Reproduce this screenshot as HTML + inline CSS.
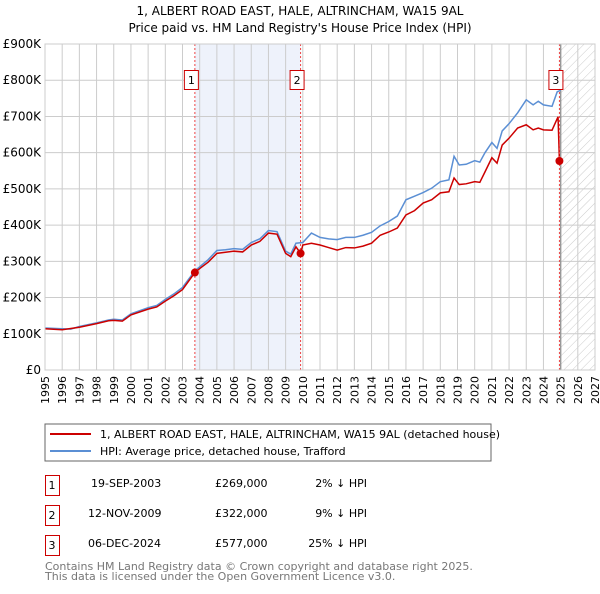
<!DOCTYPE html>
<html><head><meta charset="utf-8"><style>
body{margin:0;background:#fff;font-family:"DejaVu Sans","Liberation Sans",sans-serif;}
svg text{font-family:"DejaVu Sans","Liberation Sans",sans-serif;}
</style></head><body>
<svg id="c" width="600" height="590" xmlns="http://www.w3.org/2000/svg">
<defs><pattern id="hatch" width="6" height="6" patternUnits="userSpaceOnUse" patternTransform="rotate(45)"><line x1="0" y1="0" x2="0" y2="6" stroke="#ccc" stroke-width="1"/></pattern></defs>
<text x="300" y="15" text-anchor="middle" font-size="12">1, ALBERT ROAD EAST, HALE, ALTRINCHAM, WA15 9AL</text>
<text x="300" y="32" text-anchor="middle" font-size="12">Price paid vs. HM Land Registry's House Price Index (HPI)</text>
<g id="plot"></g>
<rect x="45" y="424" width="446" height="37" fill="#fff" stroke="#666"/>
<line x1="50" y1="434" x2="91" y2="434" stroke="#cc0000" stroke-width="2"/>
<text x="100" y="438" font-size="11">1, ALBERT ROAD EAST, HALE, ALTRINCHAM, WA15 9AL (detached house)</text>
<line x1="50" y1="451" x2="91" y2="451" stroke="#5b8fd4" stroke-width="2"/>
<text x="100" y="455" font-size="11">HPI: Average price, detached house, Trafford</text>
<g font-size="11">
<rect x="45.5" y="475.5" width="14" height="20" fill="none" stroke="#cc0000"/><text x="52" y="489" text-anchor="middle">1</text>
<text x="91" y="487">19-SEP-2003</text><text x="215" y="487">£269,000</text><text x="367" y="487" text-anchor="end">2% ↓ HPI</text>
<rect x="45.5" y="505.5" width="14" height="20" fill="none" stroke="#cc0000"/><text x="52" y="519" text-anchor="middle">2</text>
<text x="88" y="517">12-NOV-2009</text><text x="215" y="517">£322,000</text><text x="367" y="517" text-anchor="end">9% ↓ HPI</text>
<rect x="45.5" y="535.5" width="14" height="20" fill="none" stroke="#cc0000"/><text x="52" y="549" text-anchor="middle">3</text>
<text x="88" y="547">06-DEC-2024</text><text x="215" y="547">£577,000</text><text x="367" y="547" text-anchor="end">25% ↓ HPI</text>
</g>
<text x="45" y="570" font-size="11" fill="#777">Contains HM Land Registry data © Crown copyright and database right 2025.</text>
<text x="45" y="580" font-size="11" fill="#777">This data is licensed under the Open Government Licence v3.0.</text>
</svg>
<script>
const yTicks=[0,100,200,300,400,500,600,700,800,900];
const yTickLabels=["£0","£100K","£200K","£300K","£400K","£500K","£600K","£700K","£800K","£900K"];
const xYears=[1995,1996,1997,1998,1999,2000,2001,2002,2003,2004,2005,2006,2007,2008,2009,2010,2011,2012,2013,2014,2015,2016,2017,2018,2019,2020,2021,2022,2023,2024,2025,2026,2027];
const hpiDates=[1995,1996,1996.5,1997,1998,1998.7,1999,1999.5,2000,2001,2001.5,2002,2002.5,2003,2003.72,2004,2004.5,2005,2005.5,2006,2006.5,2007,2007.5,2008,2008.5,2009,2009.3,2009.6,2010,2010.5,2011,2011.5,2012,2012.5,2013,2013.5,2014,2014.5,2015,2015.5,2016,2016.5,2017,2017.5,2018,2018.5,2018.8,2019.1,2019.5,2020,2020.3,2020.6,2021,2021.3,2021.6,2022,2022.5,2023,2023.4,2023.7,2024,2024.5,2024.8,2025];
const hpiValues=[116,114,113,120,130,138,140,138,155,172,178,195,210,228,274,285,305,330,332,335,333,352,362,385,382,328,320,350,352,378,366,362,360,366,366,372,380,398,410,425,470,480,490,502,520,525,590,566,568,578,574,600,628,612,660,680,710,746,732,742,732,728,768,772];
const saleLineDates=[1995,1996,1997,1998,1998.7,1999,1999.5,2000,2001,2001.5,2002,2002.5,2003,2003.72,2004,2004.5,2005,2005.5,2006,2006.5,2007,2007.5,2008,2008.5,2009,2009.3,2009.6,2009.87,2010,2010.5,2011,2011.5,2012,2012.5,2013,2013.5,2014,2014.5,2015,2015.5,2016,2016.5,2017,2017.5,2018,2018.5,2018.8,2019.1,2019.5,2020,2020.3,2020.6,2021,2021.3,2021.6,2022,2022.5,2023,2023.4,2023.7,2024,2024.5,2024.85,2024.93];
const saleLineValues=[114,111,118,128,136,137,135,152,168,174,190,205,222,269,280,298,322,325,328,326,345,355,378,375,322,313,340,322,345,350,345,338,331,338,337,342,350,372,381,392,428,440,461,470,489,492,530,512,514,520,518,547,586,571,621,640,668,677,663,668,663,662,699,577];
const saleDates=[2003.72,2009.87,2024.93];
const salePrices=[269,322,577];
const saleIds=["1","2","3"];
const NS="http://www.w3.org/2000/svg";
const X0=45,X1=595,Y0=370,Y1=44;
const xs=d=>X0+(d-1995)*(X1-X0)/32;
const ys=v=>Y0-v*(Y0-Y1)/900;
const g=document.getElementById('plot');
function mk(t,a){const e=document.createElementNS(NS,t);for(const k in a)e.setAttribute(k,a[k]);g.appendChild(e);return e;}
let e;
e=mk('rect',{x:xs(saleDates[0]),y:Y1,width:xs(saleDates[1])-xs(saleDates[0]),height:Y0-Y1,fill:'#eef2fb'});


e=mk('rect',{x:xs(2025),y:Y1,width:X1-xs(2025),height:Y0-Y1,fill:'url(#hatch)'});


xYears.forEach(y=>{e=mk('line',{x1:xs(y),x2:xs(y),y1:Y1,y2:Y0,stroke:'#ccc'});


e=mk('text',{x:0,y:0,'font-size':11,'text-anchor':'end',transform:`translate(${xs(y)+4},${Y0+6}) rotate(-90)`});e.textContent=y;

});
yTicks.forEach((v,i)=>{e=mk('line',{x1:X0,x2:X1,y1:ys(v),y2:ys(v),stroke:'#ccc'});


e=mk('text',{x:X0-4,y:ys(v)+4,'font-size':12,'text-anchor':'end'});e.textContent=yTickLabels[i];

});
e=mk('line',{x1:xs(2025),x2:xs(2025),y1:Y1,y2:Y0,stroke:'#999','stroke-width':1.5});


e=mk('polyline',{points:hpiDates.map((d,i)=>xs(d)+','+ys(hpiValues[i])).join(' '),fill:'none',stroke:'#5b8fd4','stroke-width':1.5});


e=mk('polyline',{points:saleLineDates.map((d,i)=>xs(d)+','+ys(saleLineValues[i])).join(' '),fill:'none',stroke:'#cc0000','stroke-width':1.5});


saleDates.forEach((d,i)=>{
e=mk('line',{x1:xs(d),x2:xs(d),y1:Y1,y2:Y0,stroke:'#e44','stroke-dasharray':'2,2'});


e=mk('circle',{cx:xs(d),cy:ys(salePrices[i]),r:4,fill:'#cc0000'});


e=mk('rect',{x:xs(d)-10.5,y:70.5,width:14,height:19,fill:'#fff',stroke:'#cc0000'});


e=mk('text',{x:xs(d)-3.5,y:84,'font-size':11,'text-anchor':'middle'});e.textContent=saleIds[i];

});
e=mk('rect',{x:X0,y:Y1,width:X1-X0,height:Y0-Y1,fill:'none',stroke:'#ccc'});


</script>
</body></html>
